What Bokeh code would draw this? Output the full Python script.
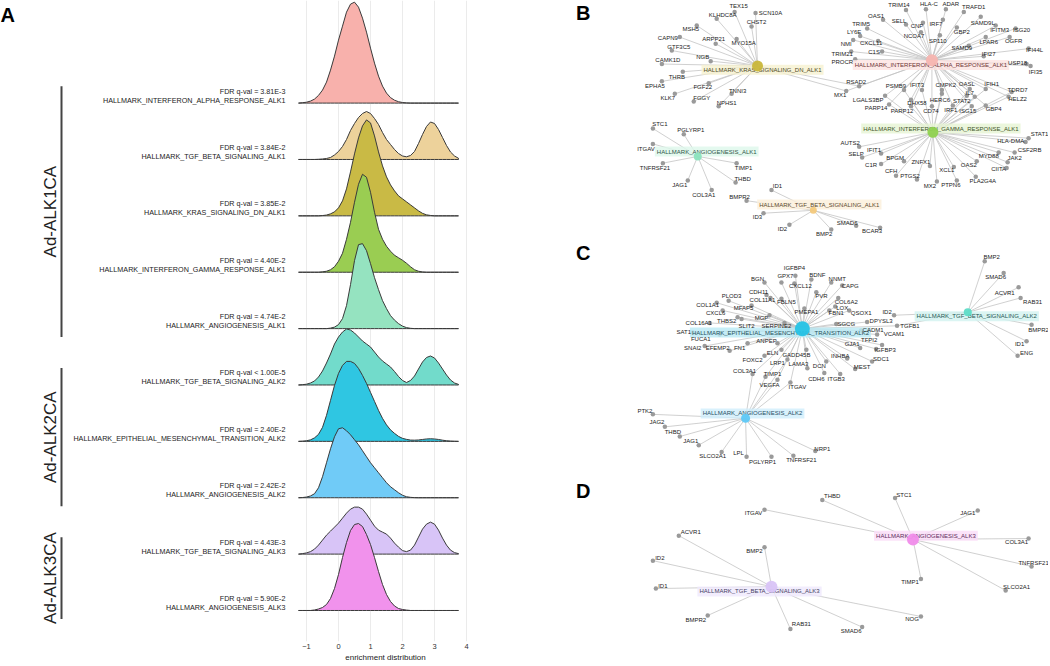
import numpy as np
from bokeh.plotting import figure
from bokeh.layouts import row
from bokeh.models import Range1d, FixedTicker
from bokeh.embed import file_html
from bokeh.resources import INLINE
from bokeh.core.properties import value

FONT = "Liberation Sans"

# ---------------- Panel A data ----------------
RIDGE_NAMES = [
    "HALLMARK_INTERFERON_ALPHA_RESPONSE_ALK1",
    "HALLMARK_TGF_BETA_SIGNALING_ALK1",
    "HALLMARK_KRAS_SIGNALING_DN_ALK1",
    "HALLMARK_INTERFERON_GAMMA_RESPONSE_ALK1",
    "HALLMARK_ANGIOGENESIS_ALK1",
    "HALLMARK_TGF_BETA_SIGNALING_ALK2",
    "HALLMARK_EPITHELIAL_MESENCHYMAL_TRANSITION_ALK2",
    "HALLMARK_ANGIOGENESIS_ALK2",
    "HALLMARK_TGF_BETA_SIGNALING_ALK3",
    "HALLMARK_ANGIOGENESIS_ALK3",
]
RIDGE_FDR = [
    "FDR q-val = 3.81E-3", "FDR q-val = 3.84E-2", "FDR q-val = 3.85E-2",
    "FDR q-val = 4.40E-2", "FDR q-val = 4.74E-2", "FDR q-val < 1.00E-5",
    "FDR q-val = 2.40E-2", "FDR q-val = 2.42E-2", "FDR q-val = 4.43E-3",
    "FDR q-val = 5.90E-2",
]
GROUPS = ["Ad-ALK1CA", "Ad-ALK2CA", "Ad-ALK3CA"]
GROUP_SIZES = [5, 3, 2]

# density sampling grid: -1.25 .. 3.75, step 0.125 (41 points)
DENS_X = np.arange(41) * 0.125 - 1.25

D_ALPHA_ALK1 = [0, 0.4, 0.9, 2, 4, 7.7, 13, 21, 33, 47, 63, 77, 91, 99, 101, 96, 85, 71, 55, 40,
                27, 17, 10, 5.5, 2.9, 1.4, 0.6, 0.2, 0, 0, 0, 0, 0, 0, 0, 0, 0, 0, 0, 0, 0]
D_TGF_ALK1 = [0, 0, 0, 0, 0, 0.2, 0.5, 1, 2, 4.5, 8, 13, 20, 29, 36, 42, 46, 48, 46, 41,
              35, 27, 20, 15, 10, 6, 3.5, 2.7, 4, 8, 16, 25, 33, 37.5, 36, 30, 22, 14, 7.5, 3.5, 1.2]
D_KRAS_ALK1 = [0, 0, 0, 0, 0, 0, 0.3, 0.8, 2, 4, 8, 15, 27, 44, 62, 78, 90, 96, 93, 80,
               64, 50, 39, 31, 25, 20, 17, 14, 11, 8, 5, 2.5, 1, 0.4, 0, 0, 0, 0, 0, 0, 0]
D_IFNG_ALK1 = [0, 0, 0, 0, 0, 0, 0.4, 1, 2.5, 5.5, 11, 19, 33, 50, 70, 88, 98, 95, 80, 60,
               43, 33, 26, 21, 17, 14.5, 12, 9, 5.5, 2.5, 1, 0.3, 0, 0, 0, 0, 0, 0, 0, 0, 0]
D_ANGIO_ALK1 = [0, 0, 0, 0, 0, 0, 0, 0, 0.5, 1.5, 4, 10, 23, 44, 68, 84, 85, 78, 65, 51,
                39, 28, 20, 13, 8.5, 5, 2.5, 1, 0.3, 0, 0, 0, 0, 0, 0, 0, 0, 0, 0, 0, 0]
D_TGF_ALK2 = [0, 0.3, 0.8, 2, 4, 8, 14, 22, 31, 41, 48, 53, 56, 55, 52, 48, 44, 41, 38, 33,
              28, 24, 21, 18, 13.5, 8.5, 4.5, 2.5, 4.5, 9, 16, 23, 27.5, 29, 27, 22, 16, 10, 5, 2, 0.6]
D_EMT_ALK2 = [0, 0.2, 0.6, 1.5, 3.5, 7, 14, 26, 41, 56, 68, 76, 80, 80, 78, 73, 66, 58, 49, 40,
              31, 23, 16.5, 11.5, 8, 5, 3, 2, 1.3, 1.2, 1.4, 1.9, 2.4, 2.6, 2.4, 1.9, 1.2, 0.6, 0.3, 0.1, 0]
D_ANGIO_ALK2 = [0, 0.2, 0.7, 1.8, 4, 10, 21, 35, 49, 61, 69, 70, 67, 63, 58, 53, 47, 41, 35, 30,
                25, 20, 15, 11, 8, 5, 2.5, 1, 0.4, 0.1, 0, 0, 0, 0, 0, 0, 0, 0, 0, 0, 0]
D_TGF_ALK3 = [0, 0.5, 1.2, 2.5, 5, 9, 14, 19, 23, 27, 31, 36, 41, 45, 47, 47, 45, 40, 34, 28,
              24, 22, 20, 16, 11, 7, 3.5, 2.5, 4, 9, 17, 25, 30, 32, 30, 24, 16, 9, 4, 1.5, 0.5]
D_ANGIO_ALK3 = [0, 0, 0, 0, 0.5, 1.5, 3, 6, 12, 22, 36, 53, 68, 80, 86, 87, 84, 76, 66, 53,
                39, 26, 16, 9, 4.5, 2, 1, 0.4, 0, 0, 0, 0, 0, 0, 0, 0, 0, 0, 0, 0, 0]
DENSITIES = [D_ALPHA_ALK1, D_TGF_ALK1, D_KRAS_ALK1, D_IFNG_ALK1, D_ANGIO_ALK1,
             D_TGF_ALK2, D_EMT_ALK2, D_ANGIO_ALK2, D_TGF_ALK3, D_ANGIO_ALK3]

RIDGE_COLORS = ["#F8B1AC", "#EDD29B", "#C9BA45", "#9ACD52", "#95E3C0",
                "#72DBCB", "#2FC6E2", "#70CBF7", "#D8C4F7", "#F192EC"]
DENS_SCALE = 1 / 56.4

# ---------------- Network data (layout coordinates) ----------------
HUB_NAMES = [
    "HALLMARK_KRAS_SIGNALING_DN_ALK1", "HALLMARK_INTERFERON_ALPHA_RESPONSE_ALK1",
    "HALLMARK_INTERFERON_GAMMA_RESPONSE_ALK1", "HALLMARK_ANGIOGENESIS_ALK1",
    "HALLMARK_TGF_BETA_SIGNALING_ALK1", "HALLMARK_EPITHELIAL_MESENCHYMAL_TRANSITION_ALK2",
    "HALLMARK_TGF_BETA_SIGNALING_ALK2", "HALLMARK_ANGIOGENESIS_ALK2",
    "HALLMARK_ANGIOGENESIS_ALK3", "HALLMARK_TGF_BETA_SIGNALING_ALK3",
]
HUB_X = [758, 933, 934, 698, 814, 803, 969, 746, 914, 772]
HUB_Y = [68, 62, 137, 162, 218, 341, 324, 434, 560, 609]
HUB_LX = [763, 932, 942, 707, 820, 781, 978, 753, 927, 760]
HUB_LY = [72, 67, 133, 157, 212, 345, 328, 429, 556, 614]
HUB_SIZE = [11, 12, 11, 8, 7, 15, 8, 9, 12, 12]
HUB_COLOR = ["#C9B63A", "#F7B5B0", "#8FD14F", "#8BE3BD", "#F3C97C",
             "#26C3E6", "#5EDCC7", "#5EC8F6", "#F08CEA", "#D9C4F7"]
HUB_BG = ["#F6F1CF", "#FCE3E1", "#E6F4D3", "#DDF7EB", "#FBEFD9",
          "#B9EAF5", "#D2F3F0", "#D0EEFB", "#FADCF7", "#EFE8FC"]
HUB_TEXT = ["#4f4a25", "#6e3434", "#3c5226", "#2e5647", "#5c4a2c",
            "#1f4f5a", "#245752", "#264f63", "#5e2b5a", "#463d63"]

# (gene, node x, node y, label x, label y)
B_KRAS = [("TEX15", 735, 12, 739, 6), ("KLHDC8A", 717, 19, 723, 15), ("SCN10A", 756, 13, 771, 13),
          ("CHST2", 752, 27, 757, 22), ("MSH5", 697, 26, 691, 30), ("CAPN9", 680, 38, 668, 39),
          ("ARPP21", 716, 45, 714, 40), ("MYO15A", 737, 40, 744, 44), ("GTF3C5", 672, 52, 679, 48),
          ("NGB", 711, 63, 703, 59), ("CAMK1D", 662, 66, 668, 62), ("THRB", 683, 74, 677, 79),
          ("EPHA5", 662, 84, 655, 89), ("FGF22", 709, 86, 703, 90), ("KLK7", 675, 97, 668, 101),
          ("FGGY", 694, 105, 702, 101), ("TNNI3", 732, 97, 738, 94), ("NPHS1", 719, 110, 727, 106)]
B_ALPHA = [("TRIM14", 907, 10, 900, 5), ("HLA-C", 927, 9, 930, 4), ("ADAR", 947, 9, 952, 4),
           ("TRAFD1", 965, 12, 975, 7), ("OAS1", 884, 20, 877, 16), ("SELL", 907, 25, 900, 21),
           ("CNP", 924, 23, 918, 27), ("IRF7", 944, 20, 937, 24), ("SAMD9L", 982, 17, 984, 23),
           ("TRIM5", 868, 29, 862, 24), ("GBP2", 958, 28, 963, 33), ("IFITM3", 997, 26, 1001, 31),
           ("ISG20", 1017, 29, 1023, 31), ("LY6E", 861, 37, 855, 33), ("NCOA7", 922, 33, 915, 37),
           ("SP110", 941, 36, 939, 42), ("LPAR6", 987, 38, 990, 43), ("OGFR", 1011, 38, 1015, 42),
           ("NMI", 854, 41, 847, 45), ("CXCL11", 879, 42, 872, 44), ("SAMD9", 970, 47, 963, 49),
           ("IFI44L", 1030, 50, 1036, 51), ("C1S", 883, 53, 875, 53), ("IFI27", 985, 58, 990, 56),
           ("TRIM21", 852, 53, 843, 56), ("PROCR", 856, 61, 843, 64), ("USP18", 1028, 66, 1019, 65),
           ("IFI35", 1032, 68, 1037, 74)]
B_KRAS_ALPHA = [("RSAD2", 860, 89, 857, 85), ("MX1", 847, 94, 841, 98)]
B_ALPHA_GAMMA = [("PSMB9", 905, 93, 897, 89), ("IFIT3", 923, 93, 918, 88), ("CMPK2", 943, 93, 947, 88),
                 ("OASL", 971, 92, 968, 87), ("IFIH1", 987, 92, 993, 87), ("TDRD7", 1013, 95, 1019, 93),
                 ("LGALS3BP", 886, 99, 869, 103), ("DHX58", 912, 103, 918, 106), ("HERC6", 943, 97, 941, 103),
                 ("STAT2", 968, 99, 963, 104), ("IL7", 976, 100, 971, 96), ("HELZ2", 1010, 100, 1019, 102),
                 ("PARP14", 890, 108, 877, 112), ("PARP12", 912, 110, 903, 115), ("CD74", 933, 110, 932, 115),
                 ("IRF1", 954, 109, 952, 114), ("ISG15", 973, 110, 969, 115), ("GBP4", 987, 109, 995, 113)]
B_GAMMA = [("STAT1", 1030, 143, 1041, 139), ("HLA-DMA", 1027, 147, 1012, 146), ("AUTS2", 860, 152, 851, 148),
           ("CSF2RB", 1016, 158, 1031, 155), ("SELP", 863, 163, 857, 159), ("IFIT1", 882, 159, 875, 155),
           ("JAK2", 1009, 168, 1016, 164), ("MYD88", 1000, 158, 990, 162), ("BPGM", 905, 167, 896, 164),
           ("ZNFX1", 931, 172, 922, 168), ("C1R", 882, 170, 872, 171), ("OAS2", 978, 167, 970, 171),
           ("CIITA", 1008, 174, 1000, 175), ("XCL1", 955, 173, 948, 176), ("CFH", 897, 182, 892, 177),
           ("PTGS2", 918, 186, 911, 182), ("MX2", 938, 188, 931, 193), ("PTPN6", 958, 187, 952, 192),
           ("PLA2G4A", 977, 183, 984, 188)]
B_ANGIO = [("STC1", 653, 133, 660, 128), ("PGLYRP1", 684, 139, 691, 135), ("ITGAV", 653, 149, 646, 154),
           ("TNFRSF21", 663, 169, 655, 174), ("TIMP1", 737, 169, 744, 174), ("THBD", 736, 189, 743, 185),
           ("JAG1", 688, 187, 680, 192), ("COL3A1", 712, 197, 704, 202)]
B_TGF = [("ID1", 772, 197, 778, 193), ("BMPR2", 747, 208, 740, 204), ("ID3", 764, 221, 758, 225),
         ("ID2", 790, 233, 783, 237), ("BMP2", 832, 238, 825, 243), ("SMAD6", 857, 234, 848, 231),
         ("BCAR3", 881, 236, 873, 239)]
C_EMT = [("IGFBP4", 796, 286, 795, 278), ("BGN", 765, 293, 758, 289), ("GPX7", 782, 293, 786, 286),
         ("BDNF", 812, 290, 818, 285), ("NNMT", 832, 293, 838, 289), ("CXCL12", 795, 294, 801, 297),
         ("CAPG", 843, 296, 851, 297), ("CDH11", 767, 306, 759, 303), ("PLOD3", 729, 312, 732, 307),
         ("COL11A1", 771, 309, 763, 311), ("FBLN5", 782, 310, 787, 313), ("PVR", 817, 303, 822, 307),
         ("COL6A2", 839, 309, 847, 313), ("COL1A1", 717, 314, 708, 316), ("MFAP5", 752, 317, 744, 319),
         ("LOX", 836, 318, 843, 320), ("FBN1", 830, 322, 837, 325), ("PMEPA1", 805, 320, 807, 324),
         ("QSOX1", 850, 322, 862, 325), ("CXCL6", 723, 322, 716, 325), ("MGP", 770, 327, 762, 330),
         ("THBS2", 738, 329, 727, 333), ("SLIT2", 742, 331, 747, 338), ("SERPINE2", 785, 335, 777, 338),
         ("SGCG", 837, 336, 847, 336), ("DPYSL3", 868, 334, 882, 333), ("COL16A1", 710, 335, 699, 335),
         ("SAT1", 693, 345, 684, 344), ("CADM1", 862, 343, 874, 342), ("VCAM1", 878, 347, 895, 347),
         ("FUCA1", 720, 347, 701, 352), ("GJA1", 861, 361, 853, 357), ("TFPI2", 883, 358, 870, 353),
         ("SNAI2", 705, 359, 693, 361), ("EFEMP2", 730, 364, 718, 361), ("FN1", 748, 356, 740, 361),
         ("ANPEP", 778, 356, 767, 354), ("IGFBP3", 877, 362, 886, 363), ("INHBA", 848, 372, 841, 369),
         ("SDC1", 873, 375, 882, 372), ("MEST", 856, 383, 863, 381), ("ELN", 782, 363, 773, 366),
         ("FOXC2", 765, 369, 753, 374), ("GADD45B", 807, 363, 797, 368), ("CDH6", 825, 387, 817, 393),
         ("ITGB3", 841, 388, 837, 393), ("LAMA3", 808, 382, 799, 378), ("DCN", 827, 375, 820, 380)]
C_EMT_ANGIO = [("LRP1", 788, 373, 778, 377), ("COL3A1", 753, 388, 745, 385), ("TIMP1", 766, 391, 773, 388),
               ("VEGFA", 778, 394, 770, 399), ("ITGAV", 791, 397, 798, 402)]
C_EMT_TGF = [("TGFB1", 898, 338, 911, 338)]
C_TGF = [("BMP2", 986, 271, 993, 267), ("SMAD6", 1005, 283, 997, 287), ("ACVR1", 1020, 298, 1006, 304),
         ("RAB31", 1022, 309, 1034, 313), ("BMPR2", 1033, 337, 1040, 342), ("ID1", 1028, 354, 1021, 357),
         ("ENG", 1019, 369, 1028, 366), ("ID2", 895, 327, 888, 324)]
C_ANGIO = [("PTK2", 653, 430, 645, 426), ("JAG2", 665, 443, 657, 438), ("THBD", 680, 453, 673, 448),
           ("JAG1", 699, 462, 691, 458), ("SLCO2A1", 722, 469, 713, 473), ("LPL", 747, 474, 739, 470),
           ("PGLYRP1", 772, 474, 763, 479), ("NRP1", 816, 468, 823, 466), ("TNFRSF21", 794, 473, 802, 477)]
D_ANGIO = [("THBD", 823, 519, 833, 515), ("STC1", 896, 517, 905, 514), ("JAG1", 979, 530, 969, 533),
           ("COL3A1", 1030, 559, 1018, 563), ("TNFRSF21", 1033, 588, 1035, 584), ("TIMP1", 922, 601, 911, 604),
           ("SLCO2A1", 1007, 613, 1018, 609), ("ITGAV", 765, 529, 754, 533)]
D_TGF = [("ACVR1", 679, 556, 691, 552), ("BMP2", 765, 568, 755, 572), ("ID2", 653, 582, 660, 579),
         ("ID1", 656, 611, 663, 608), ("BMPR2", 708, 639, 696, 644), ("RAB31", 791, 653, 802, 648),
         ("SMAD6", 863, 651, 852, 655), ("NOG", 922, 640, 913, 643)]

MEMBERSHIP = [
    (B_KRAS, [0]), (B_ALPHA, [1]), (B_KRAS_ALPHA, [0, 1]), (B_ALPHA_GAMMA, [1, 2]),
    (B_GAMMA, [2]), (B_ANGIO, [3]), (B_TGF, [4]),
    (C_EMT, [5]), (C_EMT_ANGIO, [5, 7]), (C_EMT_TGF, [5, 6]), (C_TGF, [6]), (C_ANGIO, [7]),
    (D_ANGIO, [8]), (D_TGF, [9]),
]
PANEL_LETTERS = ["B", "C", "D"]
PANEL_LX = [583, 583, 583]
PANEL_LY = [13, 262, 510]

# ---------------- Layout constants ----------------
H = 664
BOTTOM = 23
N = len(RIDGE_NAMES)
yr = Range1d(-0.55, 10.82)
common = dict(height=H, output_backend="svg", toolbar_location=None,
              min_border_left=0, min_border_right=0, min_border_top=0,
              min_border_bottom=BOTTOM, background_fill_color="white",
              border_fill_color="white")


def style_xaxis(p, label_alpha=1.0):
    ax = p.xaxis[0]
    ax.axis_label = "enrichment distribution"
    ax.axis_label_text_font = FONT
    ax.axis_label_text_font_size = "8px"
    ax.axis_label_text_font_style = "normal"
    ax.axis_label_text_color = "#222222"
    ax.axis_label_text_alpha = label_alpha
    ax.axis_label_standoff = 1
    ax.major_label_text_font = FONT
    ax.major_label_text_font_size = "7.5px"
    ax.major_label_text_color = "#333333"
    ax.major_label_text_alpha = label_alpha
    ax.major_label_standoff = 2
    ax.axis_line_color = None
    ax.major_tick_line_color = None
    ax.minor_tick_line_color = None
    ax.major_tick_out = 0
    ax.major_tick_in = 0


# ---------------- Left label figure ----------------
pl = figure(width=290, x_range=Range1d(0, 290), y_range=yr, **common)
pl.outline_line_color = None
pl.grid.visible = False
pl.yaxis.visible = False
pl.xaxis[0].ticker = FixedTicker(ticks=[100])
style_xaxis(pl, label_alpha=0.0)

bases = [N - 1 - i for i in range(N)]
pl.text(x=[285] * N, y=[b + 0.213 for b in bases], text=RIDGE_FDR, text_align="right",
        text_baseline="middle", text_font=value(FONT), text_font_size="7.2px", text_color="#222222")
pl.text(x=[285] * N, y=[b + 0.053 for b in bases], text=RIDGE_NAMES, text_align="right",
        text_baseline="middle", text_font=value(FONT), text_font_size="7.2px", text_color="#222222")

start = 0
gy0, gy1, gmid = [], [], []
for size in GROUP_SIZES:
    top = bases[start] + 0.3
    bot = bases[start + size - 1] - 0.15
    gy0.append(top)
    gy1.append(bot)
    gmid.append((top + bot) / 2)
    start += size
pl.segment(x0=[61] * 3, y0=gy0, x1=[61] * 3, y1=gy1, line_color="#444444", line_width=2)
pl.text(x=[50] * 3, y=gmid, text=GROUPS, angle=np.pi / 2, text_align="center",
        text_baseline="middle", text_font=value(FONT), text_font_size="17px", text_color="#222222")
pl.text(x=[0], y=[10.57], text=["A"], text_align="left", text_baseline="middle",
        text_font=value(FONT), text_font_size="20px", text_font_style="bold", text_color="black")

# ---------------- Ridge figure ----------------
pr = figure(width=190, x_range=Range1d(-1.5, 4.4375), y_range=yr, **common)
pr.outline_line_color = None
pr.yaxis.visible = False
pr.ygrid.visible = False
pr.xaxis[0].ticker = FixedTicker(ticks=[-1, 0, 1, 2, 3, 4])
pr.xgrid[0].ticker = FixedTicker(ticks=[-1, 0, 1, 2, 3, 4])
pr.xgrid.grid_line_color = "#EBEBEB"
pr.xgrid.grid_line_width = 1
style_xaxis(pr)

for i in range(N):
    b = bases[i]
    d = np.array(DENSITIES[i], dtype=float)
    top = b + d * DENS_SCALE
    xs = np.concatenate([DENS_X, DENS_X[::-1]])
    ys = np.concatenate([top, np.full(len(DENS_X), float(b))])
    pr.patch(x=xs, y=ys, fill_color=RIDGE_COLORS[i], fill_alpha=1.0,
             line_color="#3a3a3a", line_width=1)

# ---------------- Network figure ----------------
pn = figure(width=568, height=H, x_range=Range1d(480, 1050), y_range=Range1d(666, 0),
            output_backend="svg", toolbar_location=None, min_border=0,
            background_fill_color="white", border_fill_color="white")
pn.axis.visible = False
pn.grid.visible = False
pn.outline_line_color = None

ex, ey = [], []
gx, gy, glx, gly, gname = [], [], [], [], []
for genes, hubs in MEMBERSHIP:
    for (name, x, y, lx, ly) in genes:
        for h in hubs:
            ex.append([x, HUB_X[h]])
            ey.append([y, HUB_Y[h]])
        gx.append(x); gy.append(y); glx.append(lx); gly.append(ly); gname.append(name)

pn.multi_line(xs=ex, ys=ey, line_color="#C4C4C4", line_width=0.8)
pn.scatter(x=gx, y=gy, size=4.5, fill_color="#9A9A9A", line_color=None)
pn.text(x=HUB_LX, y=HUB_LY, text=HUB_NAMES, text_align="center", text_baseline="middle",
        text_font=value(FONT), text_font_size="6px", text_color=HUB_TEXT,
        background_fill_color=HUB_BG, background_fill_alpha=0.8, padding=2)
pn.scatter(x=HUB_X, y=HUB_Y, size=HUB_SIZE, fill_color=HUB_COLOR, line_color=None, fill_alpha=0.95)
pn.text(x=glx, y=gly, text=gname, text_align="center", text_baseline="middle",
        text_font=value(FONT), text_font_size="6px", text_color="#1A1A1A")
pn.text(x=PANEL_LX, y=PANEL_LY, text=PANEL_LETTERS, text_align="center", text_baseline="middle",
        text_font=value(FONT), text_font_size="20px", text_font_style="bold", text_color="black")

layout = row(pl, pr, pn)
open("out.html", "w").write(file_html(layout, INLINE))
